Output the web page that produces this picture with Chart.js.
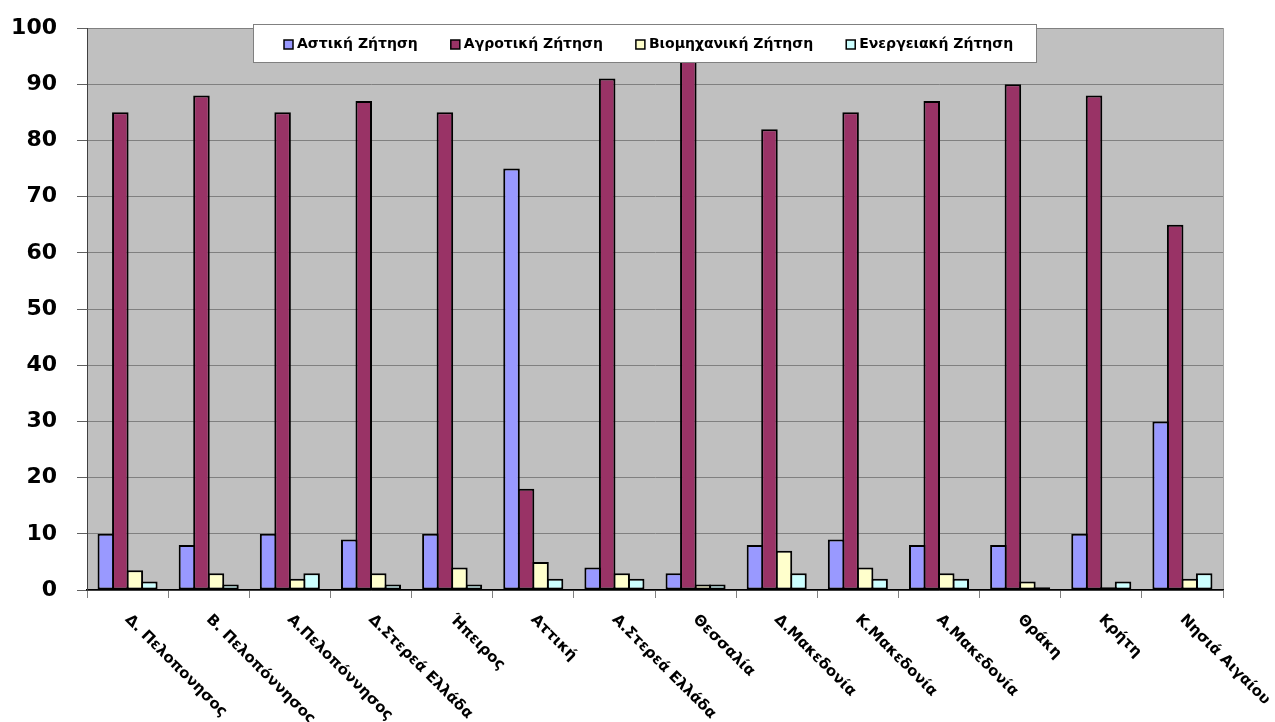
<!DOCTYPE html>
<html lang="el">
<head>
<meta charset="utf-8">
<title>Ζήτηση νερού ανά υδατικό διαμέρισμα</title>
<script src="https://cdn.jsdelivr.net/npm/chart.js@4.4.1/dist/chart.umd.min.js"></script>
<style>
  html, body { margin: 0; padding: 0; background: #ffffff; }
  #wrap { width: 1275px; height: 722px; }
</style>
</head>
<body>
<div id="wrap"><canvas id="chart" width="1275" height="722"></canvas></div>
<script>
// Water districts (x categories)
const categories = [
  'Δ. Πελοπονησος', 'Β. Πελοπόννησος', 'Α.Πελοπόννησος', 'Δ.Στερεά Ελλάδα',
  'Ήπειρος', 'Αττική', 'Α.Στερεά Ελλάδα', 'Θεσσαλία', 'Δ.Μακεδονία',
  'Κ.Μακεδονία', 'Α.Μακεδονία', 'Θράκη', 'Κρήτη', 'Νησιά Αιγαίου'
];

// Share of demand per use (%)
const urbanDemand        = [10, 8, 10, 9, 10, 75, 4, 3, 8, 9, 8, 8, 10, 30];
const agriculturalDemand = [85, 88, 85, 87, 85, 18, 91, 95, 82, 85, 87, 90, 88, 65];
const industrialDemand   = [3.5, 3, 2, 3, 4, 5, 3, 1, 7, 4, 3, 1.5, 0.5, 2];
const energyDemand       = [1.5, 1, 3, 1, 1, 2, 2, 1, 3, 2, 2, 0.5, 1.5, 3];

const seriesNames = ['Αστική Ζήτηση', 'Αγροτική Ζήτηση', 'Βιομηχανική Ζήτηση', 'Ενεργειακή Ζήτηση'];

// Y axis ticks
const yTickValues = [0, 10, 20, 30, 40, 50, 60, 70, 80, 90, 100];

const FONT = "'DejaVu Sans', Verdana, sans-serif";
const colors = ['#9999ff', '#993366', '#ffffcc', '#ccffff'];

// Grey plot background + light right edge
const plotBackground = {
  id: 'plotBackground',
  beforeDraw(chart) {
    const { ctx, chartArea: a } = chart;
    ctx.save();
    ctx.fillStyle = '#c0c0c0';
    ctx.fillRect(a.left, a.top, a.right - a.left, a.bottom - a.top);
    ctx.strokeStyle = '#a0a0a0';
    ctx.lineWidth = 1;
    ctx.beginPath();
    ctx.moveTo(a.right + 0.5, a.top);
    ctx.lineTo(a.right + 0.5, a.bottom);
    ctx.stroke();
    ctx.restore();
  }
};

// Category labels slanting down to the right, starting under each group
const slantedLabels = {
  id: 'slantedLabels',
  afterDraw(chart) {
    const { ctx } = chart;
    const xs = chart.scales.x;
    ctx.save();
    ctx.fillStyle = '#000';
    ctx.font = 'bold 15px ' + FONT;
    ctx.textAlign = 'left';
    ctx.textBaseline = 'alphabetic';
    categories.forEach((label, i) => {
      const cx = xs.getPixelForValue(i);
      ctx.save();
      ctx.translate(cx - 3, chart.chartArea.bottom + 30);
      ctx.rotate(Math.PI / 4);
      ctx.fillText(label, 0, 0);
      ctx.restore();
    });
    ctx.restore();
  }
};

// Boxed legend on top of the plot
const boxedLegend = {
  id: 'boxedLegend',
  afterDraw(chart) {
    const { ctx } = chart;
    const box = { x: 253, y: 24, w: 784, h: 39 };
    ctx.save();
    ctx.fillStyle = '#ffffff';
    ctx.fillRect(box.x, box.y, box.w, box.h);
    ctx.strokeStyle = '#808080';
    ctx.lineWidth = 1;
    ctx.strokeRect(box.x + 0.5, box.y + 0.5, box.w - 1, box.h - 1);

    ctx.font = 'bold 14px ' + FONT;
    ctx.textBaseline = 'middle';
    ctx.textAlign = 'left';
    const sw = 9, gapText = 4, gapItem = 33;
    const items = chart.data.datasets.map(ds => ({
      label: ds.label, color: ds.backgroundColor, w: ctx.measureText(ds.label).width
    }));
    const total = items.reduce((s, it) => s + sw + gapText + it.w, 0) + gapItem * (items.length - 1);
    let x = Math.round(box.x + box.w / 2 - total / 2 + 4);
    const cy = box.y + box.h / 2 + 1;
    items.forEach(it => {
      ctx.fillStyle = it.color;
      ctx.fillRect(x, cy - sw / 2, sw, sw);
      ctx.strokeStyle = '#000';
      ctx.lineWidth = 1.5;
      ctx.strokeRect(x, cy - sw / 2, sw, sw);
      ctx.fillStyle = '#000';
      ctx.fillText(it.label, x + sw + gapText, cy);
      x += sw + gapText + it.w + gapItem;
    });
    ctx.restore();
  }
};

const datasetValues = [urbanDemand, agriculturalDemand, industrialDemand, energyDemand];

new Chart(document.getElementById('chart'), {
  type: 'bar',
  data: {
    labels: categories,
    datasets: datasetValues.map((vals, i) => ({
      label: seriesNames[i],
      data: vals,
      backgroundColor: colors[i],
      borderColor: '#000000',
      borderWidth: 2,
      borderSkipped: false,
      inflateAmount: 0,
      // neighbouring bars overlap slightly so they share one outline
      categoryPercentage: 0.715,
      barPercentage: 1.14
    }))
  },
  options: {
    responsive: false,
    animation: false,
    devicePixelRatio: 1,
    layout: { padding: { left: 0, right: 52, top: 28, bottom: 0 } },
    plugins: {
      legend: { display: false },
      tooltip: { enabled: false }
    },
    scales: {
      x: {
        offset: true,
        grid: {
          offset: true,
          drawOnChartArea: false,
          drawTicks: true,
          tickLength: 8,
          tickColor: '#808080'
        },
        border: { color: '#000000', width: 1.5 },
        ticks: { display: false },
        afterFit(scale) { scale.height = 132; }
      },
      y: {
        min: 0,
        max: 100,
        afterBuildTicks(scale) { scale.ticks = yTickValues.map(v => ({ value: v })); },
        grid: {
          color: '#808080',
          lineWidth: 1,
          tickLength: 10,
          tickColor: '#606060'
        },
        border: { color: '#404040', width: 1 },
        ticks: {
          padding: 20,
          color: '#000000',
          font: { family: FONT, size: 22, weight: 'bold' }
        },
        afterFit(scale) {
          scale.width = 87;
          scale.paddingTop = 0;
          scale.paddingBottom = 0;
        }
      }
    }
  },
  plugins: [plotBackground, boxedLegend, slantedLabels]
});
</script>
</body>
</html>
